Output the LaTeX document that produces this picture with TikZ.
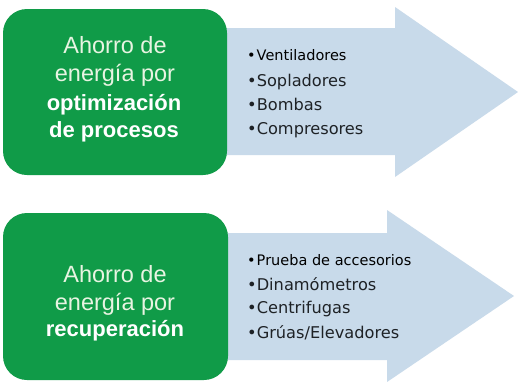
\documentclass[tikz,border=0pt]{standalone}
\usepackage{fontspec}
\setmainfont{Liberation Sans}
\newfontfamily\listfont{DejaVu Sans}
\definecolor{boxgreen}{HTML}{109B48}
\definecolor{arrowblue}{HTML}{C8DAEA}
\definecolor{paletext}{HTML}{E8F4E2}
\definecolor{listtext}{HTML}{1E2226}
\begin{document}
\begin{tikzpicture}[x=1pt,y=-1pt,
  greenbox/.style={fill=boxgreen, draw=none, rounded corners=24pt},
  bigarrow/.style={fill=arrowblue, draw=none},
  boxtext/.style={align=center, text=paletext, inner sep=0pt, font=\fontsize{23.5}{28}\selectfont},
  firstitem/.style={anchor=base west, inner sep=0pt, text=black, font=\listfont\fontsize{14.5}{16}\selectfont},
  item/.style={anchor=base west, inner sep=0pt, text=listtext, font=\listfont\fontsize{16.2}{18}\selectfont}
]
\useasboundingbox (0,0) rectangle (518,381);
\fill[white] (0,0) rectangle (518,381);
% top arrow
\path[bigarrow] (200,28) -- (395,28) -- (395,7) -- (518,92) -- (395,177) -- (395,155) -- (200,155) -- cycle;
% bottom arrow
\path[bigarrow] (200,233) -- (387,233) -- (387,210) -- (514,296) -- (387,382) -- (387,360) -- (200,360) -- cycle;
% green boxes
\path[greenbox] (3,9) rectangle (227,175);
\path[greenbox] (3,213) rectangle (228,380);
% box texts
\node[boxtext, anchor=base] (a1) at (115,53) {Ahorro de};
\node[boxtext, anchor=base] (a2) at (115,81) {energía por};
\node[boxtext, anchor=base, text=white, font=\bfseries\fontsize{22}{28}\selectfont] (a3) at (114,110) {optimización};
\node[boxtext, anchor=base, text=white, font=\bfseries\fontsize{22}{28}\selectfont] (a4) at (114,137) {de procesos};
\node[boxtext, anchor=base] (b1) at (115,282) {Ahorro de};
\node[boxtext, anchor=base] (b2) at (115,310) {energía por};
\node[boxtext, anchor=base, text=white, font=\bfseries\fontsize{22}{28}\selectfont] (b3) at (115,336) {recuperación};
% lists
\node[firstitem] (t1) at (247,60) {•\kern1pt Ventiladores};
\node[item] (t2) at (247,86) {•\kern0pt Sopladores};
\node[item] (t3) at (247,110) {•\kern0pt Bombas};
\node[item] (t4) at (247,134) {•\kern0pt Compresores};
\node[firstitem] (u1) at (247,265) {•\kern1pt Prueba de accesorios};
\node[item] (u2) at (247,290) {•\kern0pt Dinamómetros};
\node[item] (u3) at (247,313) {•\kern0pt Centrifugas};
\node[item] (u4) at (247,338) {•\kern0pt Grúas/Elevadores};
\end{tikzpicture}
\end{document}
